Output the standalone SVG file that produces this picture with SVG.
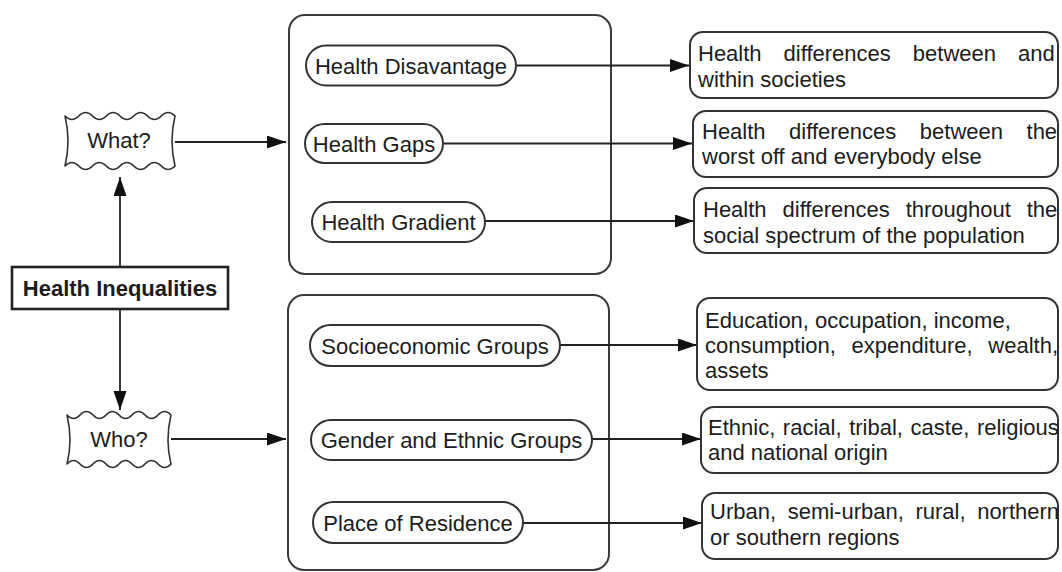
<svg xmlns="http://www.w3.org/2000/svg" width="1062" height="572" viewBox="0 0 1062 572">
  <style>
    text { font-family: "Liberation Sans", Arial, Helvetica, sans-serif; font-size: 22px; fill: #1c1c1c; }
    .c { text-anchor: middle; }
    .b { font-weight: bold; }
    .frame { fill: none; stroke: #3a3a3a; stroke-width: 2; }
    .pill { fill: #ffffff; stroke: #333333; stroke-width: 2; }
    .box { fill: #ffffff; stroke: #333333; stroke-width: 2; }
    .wave { fill: #ffffff; stroke: #333333; stroke-width: 1.6; stroke-linejoin: round; }
    .root { fill: #ffffff; stroke: #222222; stroke-width: 2.6; }
    .link { fill: none; stroke: #222222; stroke-width: 1.8; marker-end: url(#arrow); }
  </style>
  <defs>
    <marker id="arrow" markerUnits="userSpaceOnUse" markerWidth="20" markerHeight="14" refX="19" refY="6.5" orient="auto">
      <path d="M0,0 L19,6.5 L0,13 Z" fill="#111111"/>
    </marker>
  </defs>

  <rect width="1062" height="572" fill="#ffffff"/>

  <!-- grouping frames -->
  <g id="frame-what">
    <rect class="frame" x="289" y="15" width="322" height="259" rx="16"/>
  </g>
  <g id="frame-who">
    <rect class="frame" x="288" y="295" width="321" height="275" rx="16"/>
  </g>

  <!-- connectors -->
  <g id="connectors">
    <line class="link" x1="120" y1="267" x2="120" y2="177"/>
    <line class="link" x1="120" y1="309" x2="120" y2="410"/>
    <line class="link" x1="175" y1="142" x2="286" y2="142"/>
    <line class="link" x1="171" y1="439" x2="286" y2="439"/>
    <line class="link" x1="516" y1="65.5" x2="689" y2="65.5"/>
    <line class="link" x1="443" y1="143.5" x2="692" y2="143.5"/>
    <line class="link" x1="485" y1="221" x2="694" y2="221"/>
    <line class="link" x1="560" y1="345" x2="697" y2="345"/>
    <line class="link" x1="592" y1="439" x2="701" y2="439"/>
    <line class="link" x1="523" y1="523" x2="702" y2="523"/>
  </g>

  <!-- root -->
  <g id="health-inequalities">
    <rect class="root" x="12" y="267" width="216" height="42"/>
    <text class="c b" x="120" y="296">Health Inequalities</text>
  </g>

  <!-- question nodes -->
  <g id="what">
    <path class="wave" d="M65,116 q6.875,7 13.75,0 t13.75,0 t13.75,0 t13.75,0 t13.75,0 t13.75,0 t13.75,0 t13.75,0 Q169,141 175,166 q-6.875,7 -13.75,0 t-13.75,0 t-13.75,0 t-13.75,0 t-13.75,0 t-13.75,0 t-13.75,0 t-13.75,0 Q71,141 65,116 Z"/>
    <text class="c" x="119" y="148">What?</text>
  </g>
  <g id="who">
    <path class="wave" d="M67,415 q6.5,7 13,0 t13,0 t13,0 t13,0 t13,0 t13,0 t13,0 t13,0 Q165,440 171,464 q-6.5,7 -13,0 t-13,0 t-13,0 t-13,0 t-13,0 t-13,0 t-13,0 t-13,0 Q73,440 67,415 Z"/>
    <text class="c" x="119" y="447">Who?</text>
  </g>

  <!-- what: categories -->
  <g id="health-disadvantage">
    <rect class="pill" x="306" y="45.5" width="210" height="40" rx="20"/>
    <text class="c" x="411" y="73.5">Health Disavantage</text>
  </g>
  <g id="health-gaps">
    <rect class="pill" x="305" y="124" width="138" height="39" rx="19.5"/>
    <text class="c" x="374" y="151.5">Health Gaps</text>
  </g>
  <g id="health-gradient">
    <rect class="pill" x="312" y="202" width="173" height="40" rx="20"/>
    <text class="c" x="398.5" y="229.5">Health Gradient</text>
  </g>

  <!-- who: categories -->
  <g id="socioeconomic-groups">
    <rect class="pill" x="310" y="325" width="250" height="41" rx="20.5"/>
    <text class="c" x="435" y="353.5">Socioeconomic Groups</text>
  </g>
  <g id="gender-ethnic-groups">
    <rect class="pill" x="311" y="420" width="281" height="40" rx="20"/>
    <text class="c" x="451.5" y="448">Gender and Ethnic Groups</text>
  </g>
  <g id="place-of-residence">
    <rect class="pill" x="313" y="502" width="210" height="41" rx="20.5"/>
    <text class="c" x="418" y="530.5">Place of Residence</text>
  </g>

  <!-- descriptions -->
  <g id="desc-disadvantage">
    <rect class="box" x="690" y="32" width="368" height="66" rx="13"/>
    <text x="698" y="61" word-spacing="15.9">Health differences between and</text>
    <text x="698" y="87">within societies</text>
  </g>
  <g id="desc-gaps">
    <rect class="box" x="693" y="111" width="365" height="66" rx="13"/>
    <text x="702" y="139" word-spacing="17.4">Health differences between the</text>
    <text x="702" y="164">worst off and everybody else</text>
  </g>
  <g id="desc-gradient">
    <rect class="box" x="694" y="188" width="364" height="65" rx="13"/>
    <text x="703" y="217" word-spacing="9.8">Health differences throughout the</text>
    <text x="703" y="243">social spectrum of the population</text>
  </g>
  <g id="desc-socioeconomic">
    <rect class="box" x="697" y="298" width="361" height="92" rx="13"/>
    <text x="705" y="328">Education, occupation, income,</text>
    <text x="705" y="353" word-spacing="9.6">consumption, expenditure, wealth,</text>
    <text x="705" y="378">assets</text>
  </g>
  <g id="desc-gender-ethnic">
    <rect class="box" x="701" y="407" width="357" height="66" rx="13"/>
    <text x="708" y="435" word-spacing="1.5">Ethnic, racial, tribal, caste, religious</text>
    <text x="708" y="460">and national origin</text>
  </g>
  <g id="desc-residence">
    <rect class="box" x="702" y="493" width="356" height="66" rx="13"/>
    <text x="710" y="519" word-spacing="5.5">Urban, semi-urban, rural, northern</text>
    <text x="710" y="545">or southern regions</text>
  </g>
</svg>
